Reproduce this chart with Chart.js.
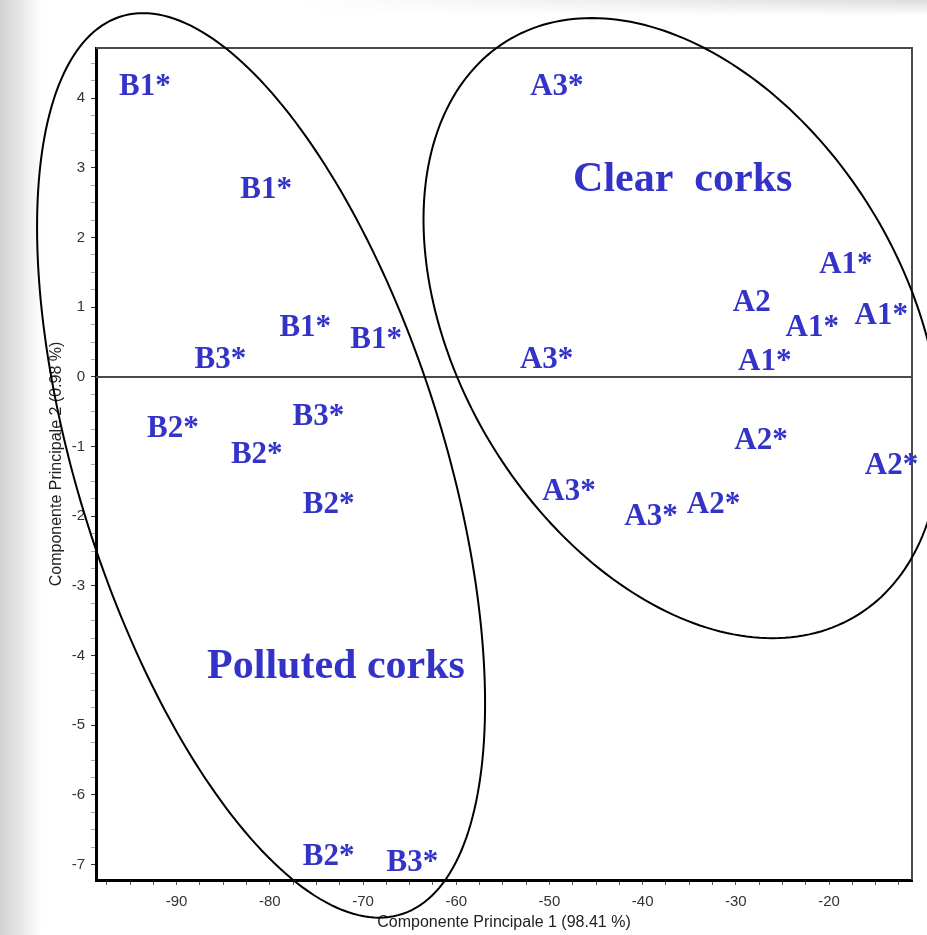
<!DOCTYPE html>
<html>
<head>
<meta charset="utf-8">
<title>PCA - corks</title>
<script src="https://cdn.jsdelivr.net/npm/chart.js@4.4.1/dist/chart.umd.min.js"></script>
<style>
  html, body { margin: 0; padding: 0; }
  body {
    position: relative;
    width: 927px;
    height: 935px;
    overflow: hidden;
    background: linear-gradient(to right, #d2d2d2 0px, #e6e6e6 20px, #ffffff 42px);
  }
  #topband {
    position: absolute; left: 0; top: 0; width: 927px; height: 16px;
    background: linear-gradient(to right, rgba(255,255,255,0) 300px, #dcdcdc 927px);
    -webkit-mask-image: linear-gradient(to bottom, #000 0px, rgba(0,0,0,0) 16px);
  }
  #chart { position: absolute; left: 0; top: 0; display: block; }
</style>
</head>
<body>
<div id="topband"></div>
<canvas id="chart" width="927" height="935"></canvas>
<script>
// scores (PC1, PC2) for each sample
const labelsA = ['A3*', 'A1*', 'A2', 'A1*', 'A1*', 'A3*', 'A1*', 'A2*', 'A2*', 'A3*', 'A3*', 'A2*'];
const pc1A = [-49.2, -18.2, -28.3, -21.8, -14.4, -50.3, -26.9, -27.3, -13.3, -47.9, -39.1, -32.4];
const pc2A = [4.19, 1.64, 1.09, 0.73, 0.91, 0.27, 0.25, -0.89, -1.25, -1.62, -1.98, -1.81];

const labelsB = ['B1*', 'B1*', 'B1*', 'B1*', 'B3*', 'B2*', 'B3*', 'B2*', 'B2*', 'B2*', 'B3*'];
const pc1B = [-93.4, -80.4, -76.2, -68.6, -85.3, -90.4, -74.8, -81.4, -73.7, -73.7, -64.7];
const pc2B = [4.19, 2.71, 0.73, 0.56, 0.27, -0.71, -0.54, -1.09, -1.80, -6.86, -6.95];

const groupNames = ['Clear  corks', 'Polluted corks'];
const groupPc1 = [-35.7, -72.9];
const groupPc2 = [2.87, -4.12];

const xTickLabels = [-90, -80, -70, -60, -50, -40, -30, -20];
const yTickLabels = [-7, -6, -5, -4, -3, -2, -1, 0, 1, 2, 3, 4];
const xRange = [-98.65, -11.1];
const yRange = [-7.22, 4.72];

// group ellipses: centre and two conjugate semi-axes, in data units
const ellipses = [
  { c: [-35.77, 0.70], u: [-9.70, 4.45], v: [25.99, 0] },
  { c: [-80.94, -1.27], u: [-12.66, 6.49], v: [20.43, 0] }
];

const BLUE = '#3333c8';
const LABEL_FONT = 31;
const GROUP_FONT = 42;

function toPoints(xs, ys, names) {
  return xs.map((x, i) => ({ x: x, y: ys[i], name: names[i] }));
}

function minorTicks(majors, lo, hi, parts) {
  const step = (majors[1] - majors[0]) / parts;
  const out = [];
  let v = majors[0] - Math.floor((majors[0] - lo) / step) * step;
  for (; v <= hi + 1e-9; v += step) out.push({ value: Math.round(v * 1000) / 1000 });
  return out;
}

const isMajor = (list, v) => list.some(m => Math.abs(m - v) < 1e-6);

const framePlugin = {
  id: 'frame',
  beforeDatasetsDraw(chart) {
    const { ctx, chartArea: a } = chart;
    const y0 = chart.scales.y.getPixelForValue(0);
    ctx.save();
    ctx.strokeStyle = '#4a4a4a';
    ctx.lineWidth = 2;
    ctx.beginPath();
    ctx.moveTo(a.left, a.top);
    ctx.lineTo(a.right, a.top);
    ctx.lineTo(a.right, a.bottom);
    ctx.stroke();
    ctx.beginPath();
    ctx.moveTo(a.left, y0);
    ctx.lineTo(a.right, y0);
    ctx.stroke();
    ctx.restore();
  }
};

const labelPlugin = {
  id: 'pointLabels',
  afterDatasetsDraw(chart) {
    const ctx = chart.ctx;
    ctx.save();
    ctx.fillStyle = BLUE;
    ctx.textAlign = 'center';
    ctx.textBaseline = 'alphabetic';
    ctx.font = 'bold ' + LABEL_FONT + 'px "Liberation Serif", "Times New Roman", serif';
    chart.data.datasets.forEach((ds, i) => {
      chart.getDatasetMeta(i).data.forEach((el, j) => {
        ctx.fillText(ds.data[j].name, el.x, el.y + LABEL_FONT * 0.33);
      });
    });
    // group names
    const xs = chart.scales.x, ys = chart.scales.y;
    ctx.font = 'bold ' + GROUP_FONT + 'px "Liberation Serif", "Times New Roman", serif';
    groupNames.forEach((name, i) => {
      ctx.fillText(name, xs.getPixelForValue(groupPc1[i]), ys.getPixelForValue(groupPc2[i]) + GROUP_FONT * 0.33);
    });
    ctx.restore();
  }
};

const ellipsePlugin = {
  id: 'ellipses',
  afterDraw(chart) {
    const ctx = chart.ctx;
    const xs = chart.scales.x, ys = chart.scales.y;
    ctx.save();
    ctx.strokeStyle = '#000';
    ctx.lineWidth = 2;
    ellipses.forEach(e => {
      ctx.beginPath();
      for (let k = 0; k <= 240; k++) {
        const t = k / 240 * Math.PI * 2;
        const dx = e.c[0] + e.u[0] * Math.cos(t) + e.v[0] * Math.sin(t);
        const dy = e.c[1] + e.u[1] * Math.cos(t) + e.v[1] * Math.sin(t);
        const px = xs.getPixelForValue(dx), py = ys.getPixelForValue(dy);
        if (k === 0) ctx.moveTo(px, py); else ctx.lineTo(px, py);
      }
      ctx.closePath();
      ctx.stroke();
    });
    ctx.restore();
  }
};

const tickFont = { family: '"Liberation Sans", Arial, sans-serif', size: 15 };
const titleFont = { family: '"Liberation Sans", Arial, sans-serif', size: 16 };

new Chart(document.getElementById('chart'), {
  type: 'scatter',
  data: {
    datasets: [
      { label: 'A', data: toPoints(pc1A, pc2A, labelsA), pointRadius: 0, pointHoverRadius: 0 },
      { label: 'B', data: toPoints(pc1B, pc2B, labelsB), pointRadius: 0, pointHoverRadius: 0 }
    ]
  },
  options: {
    responsive: false,
    animation: false,
    devicePixelRatio: 1,
    layout: { padding: { top: 48, right: 15, left: 0, bottom: 0 } },
    plugins: { legend: { display: false }, tooltip: { enabled: false } },
    scales: {
      x: {
        type: 'linear',
        min: xRange[0],
        max: xRange[1],
        afterBuildTicks: s => { s.ticks = minorTicks(xTickLabels, xRange[0], xRange[1], 4); },
        afterFit: s => { s.height = 55; },
        grid: { display: true, drawOnChartArea: false, drawTicks: true, tickLength: 5, tickColor: '#555', tickWidth: 1 },
        border: { display: true, color: '#000', width: 3 },
        ticks: {
          autoSkip: false, maxRotation: 0, minRotation: 0, padding: 8,
          color: '#333', font: tickFont,
          callback: v => isMajor(xTickLabels, v) ? String(Math.round(v)) : ''
        },
        title: {
          display: true, text: 'Componente Principale 1 (98.41 %)',
          color: '#222', font: titleFont, padding: { top: 0, bottom: 3 }
        }
      },
      y: {
        type: 'linear',
        min: yRange[0],
        max: yRange[1],
        afterBuildTicks: s => { s.ticks = minorTicks(yTickLabels, yRange[0], yRange[1], 4); },
        afterFit: s => { s.width = 96; },
        grid: {
          display: true, drawOnChartArea: false, drawTicks: true, tickLength: 5, tickWidth: 1,
          tickColor: c => isMajor(yTickLabels, c.tick.value) ? '#333' : '#aaa'
        },
        border: { display: true, color: '#000', width: 3 },
        ticks: {
          autoSkip: false, padding: 6,
          color: '#333', font: tickFont,
          callback: v => isMajor(yTickLabels, v) ? String(Math.round(v)) : ''
        },
        title: {
          display: true, text: 'Componente Principale 2 (0.98 %)',
          color: '#222', font: titleFont, padding: { top: 47, bottom: 0 }
        }
      }
    }
  },
  plugins: [framePlugin, labelPlugin, ellipsePlugin]
});
</script>
</body>
</html>
